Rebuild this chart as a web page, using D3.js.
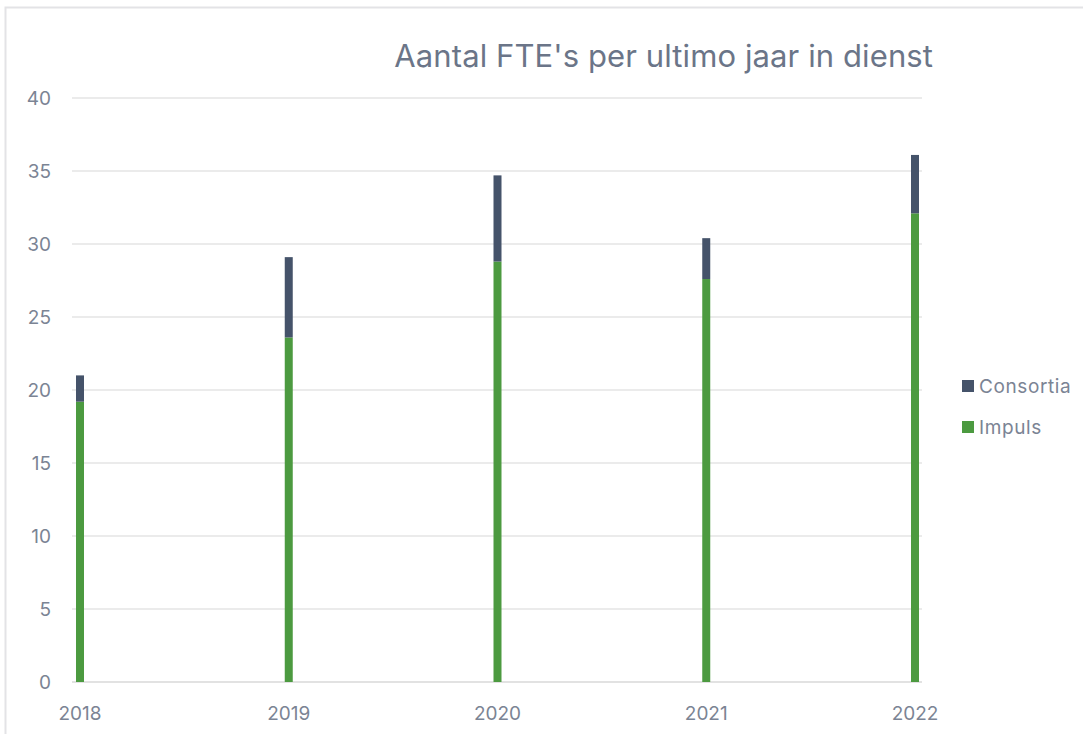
<!DOCTYPE html>
<html>
<head>
<meta charset="utf-8">
<script src="https://cdn.jsdelivr.net/npm/d3@7"></script>
<style>
  body { margin: 0; background: #fff; }
  text { font-family: "Inter", "Roboto", sans-serif; }
</style>
</head>
<body>
<div id="chart"></div>
<script>
// data
const years = ["2018", "2019", "2020", "2021", "2022"];
const impuls = [19.2, 23.6, 28.8, 27.6, 32.1];
const consortia = [1.8, 5.5, 5.9, 2.8, 4.0];
const yTicks = [0, 5, 10, 15, 20, 25, 30, 35, 40];

const width = 1083;
const height = 734;

const svg = d3.select("#chart").append("svg")
    .attr("width", width)
    .attr("height", height);

// frame
svg.append("rect")
    .attr("x", 5.5).attr("y", 7.5)
    .attr("width", width + 10).attr("height", height + 10)
    .attr("fill", "none")
    .attr("stroke", "#e3e3e6")
    .attr("stroke-width", 2);

const x = d3.scalePoint().domain(years).range([80, 915]);
const y = d3.scaleLinear().domain([0, 40]).range([682, 98]);

// gridlines
svg.append("g")
    .selectAll("line")
    .data(yTicks)
    .join("line")
    .attr("x1", 72).attr("x2", 922)
    .attr("y1", d => y(d)).attr("y2", d => y(d))
    .attr("stroke", d => d === 0 ? "#d9d9d9" : "#e4e4e4")
    .attr("stroke-width", 1.5);

// y labels
svg.append("g")
    .selectAll("text")
    .data(yTicks)
    .join("text")
    .attr("x", 51)
    .attr("y", d => y(d))
    .attr("dy", "0.35em")
    .attr("text-anchor", "end")
    .attr("fill", "#7b8494")
    .style("font-size", "19px")
    .text(d => d);

// x labels
svg.append("g")
    .selectAll("text")
    .data(years)
    .join("text")
    .attr("x", d => x(d))
    .attr("y", 713)
    .attr("dy", "0.35em")
    .attr("text-anchor", "middle")
    .attr("fill", "#7b8494")
    .style("font-size", "19px")
    .text(d => d);

// stacked bars
const colors = { Impuls: "#4c9a40", Consortia: "#45536a" };
const stackData = years.map((yr, i) => ({ year: yr, Impuls: impuls[i], Consortia: consortia[i] }));
const series = d3.stack().keys(["Impuls", "Consortia"])(stackData);
const barW = 8;

svg.append("g")
    .selectAll("g")
    .data(series)
    .join("g")
    .attr("fill", s => colors[s.key])
    .selectAll("rect")
    .data(s => s)
    .join("rect")
    .attr("x", d => x(d.data.year) - barW / 2)
    .attr("y", d => y(d[1]))
    .attr("width", barW)
    .attr("height", d => y(d[0]) - y(d[1]));

// title
svg.append("text")
    .attr("x", 933)
    .attr("y", 67)
    .attr("text-anchor", "end")
    .attr("fill", "#6b7588")
    .style("font-size", "31px")
    .style("letter-spacing", "0.1px")
    .text("Aantal FTE's per ultimo jaar in dienst");

// legend
const legendKeys = ["Consortia", "Impuls"];
const legend = svg.append("g")
    .selectAll("g")
    .data(legendKeys)
    .join("g")
    .attr("transform", (d, i) => `translate(962, ${386 + i * 41})`);

legend.append("rect")
    .attr("x", 0).attr("y", -6)
    .attr("width", 12).attr("height", 12)
    .attr("fill", d => colors[d]);

legend.append("text")
    .attr("x", 17)
    .attr("y", 0)
    .attr("dy", "0.35em")
    .attr("fill", "#7b8494")
    .style("font-size", "19px")
    .style("letter-spacing", "0.6px")
    .text(d => d);
</script>
</body>
</html>
